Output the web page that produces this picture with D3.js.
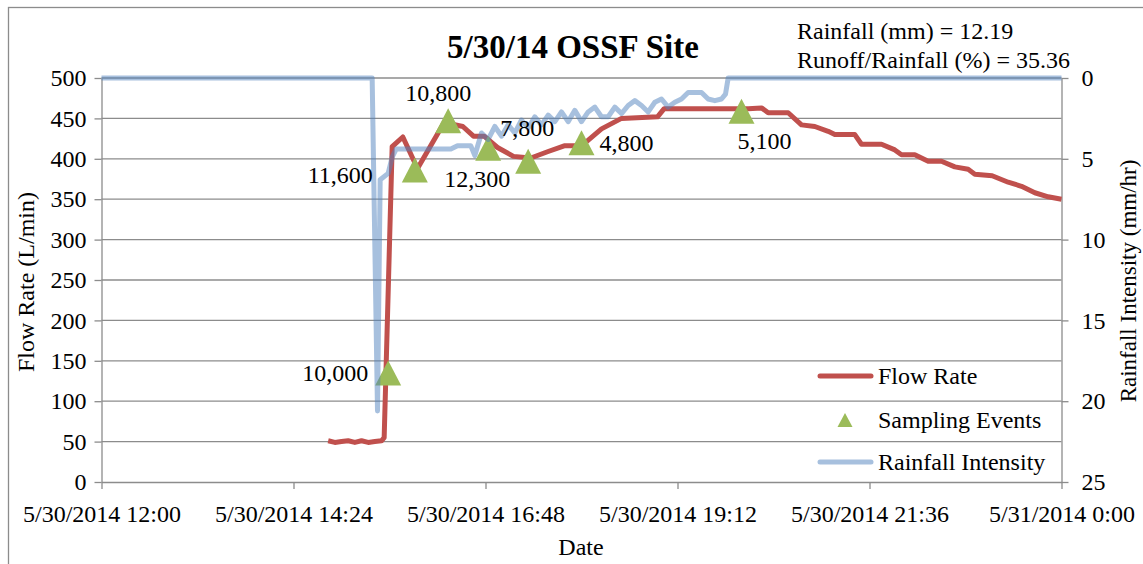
<!DOCTYPE html>
<html><head><meta charset="utf-8">
<script src="https://cdn.jsdelivr.net/npm/d3@7"></script>
<style>body{margin:0;background:#fff}svg{display:block}</style>
</head><body><svg id="c" width="1143" height="564"></svg>
<script>
// ---------- data ----------
const flowTimes = ["14:50","14:55","15:00","15:05","15:10","15:15","15:20","15:25","15:30","15:32","15:38","15:46","15:57","16:17","16:31","16:39","16:47","16:57","17:09","17:22","17:35","17:47","18:00","18:15","18:30","18:57","19:02","20:05","20:15","20:20","20:35","20:45","20:55","21:05","21:10","21:25","21:30","21:45","21:55","22:00","22:10","22:20","22:30","22:40","22:50","22:55","23:08","23:20","23:30","23:40","23:50","24:00"];
const flowValues = [51,49,50,51,49,51,49,50,51,55,415,427,388,445,440,428,428,414,403,401,409,416,416,437,450,452,462,462,463,457,457,442,440,434,430,430,418,418,411,405,405,397,397,390,387,381,379,371,366,358,353,350];

const rainTimes = ["12:00","15:23","15:27","15:29","15:35","15:38","15:41","16:22","16:27","16:37","16:40","16:45","16:50","16:55","17:00","17:05","17:10","17:15","17:20","17:25","17:30","17:35","17:40","17:45","17:50","17:55","18:00","18:05","18:10","18:15","18:20","18:25","18:30","18:35","18:40","18:45","18:50","18:55","19:00","19:05","19:10","19:15","19:20","19:25","19:30","19:35","19:40","19:45","19:48","19:50","24:00"];
const rainValues = [0,0,20.6,6.3,5.9,4.9,4.4,4.4,4.2,4.2,4.8,3.4,3.8,3.0,3.6,2.9,3.4,2.6,3.1,2.4,2.9,2.3,2.7,2.1,2.7,2.0,2.7,2.1,1.8,2.4,2.4,1.8,2.2,1.7,1.4,1.7,2.1,1.5,1.3,1.8,1.5,1.3,0.9,0.9,0.9,1.3,1.4,1.3,1.0,0,0];

const sampleTimes = ["15:35","15:55","16:20","16:50","17:20","18:00","20:00"];
const sampleValues = [135,386,447,413,397,420,459];
const sampleLabels = ["10,000","11,600","10,800","12,300","7,800","4,800","5,100"];

const flowTicks = [0,50,100,150,200,250,300,350,400,450,500];
const rainTicks = [0,5,10,15,20,25];
const dateTicks = ["12:00","14:24","16:48","19:12","21:36","24:00"];
const dateTickLabels = ["5/30/2014 12:00","5/30/2014 14:24","5/30/2014 16:48","5/30/2014 19:12","5/30/2014 21:36","5/31/2014 0:00"];

const seriesNames = ["Flow Rate","Sampling Events","Rainfall Intensity"];
const titleText = "5/30/14 OSSF Site";
const noteLines = ["Rainfall (mm) = 12.19","Runoff/Rainfall (%) = 35.36"];

// ---------- drawing ----------
const T = s => { const [h,m] = s.split(":").map(Number); return new Date(2014,4,30,h,m); };
const FONT = "'Liberation Serif','Times New Roman',serif";
const RED = "#c0504d", GREEN = "#9bbb59", BLUE = "#4f81bd", GRID = "#8c8c8c";

const svg = d3.select("#c").style("font-family", FONT);
const L = 101.5, R = 1061.5, TOP = 78, BOT = 482;

const x = d3.scaleTime().domain([T("12:00"), T("24:00")]).range([L, R]);
const yL = d3.scaleLinear().domain([0,500]).range([BOT, TOP]);
const yR = d3.scaleLinear().domain([0,25]).range([TOP, BOT]);

// outer frame
svg.append("rect").attr("x",8.5).attr("y",7.5).attr("width",1200).attr("height",700)
  .attr("fill","none").attr("stroke",GRID).attr("stroke-width",1.3);

// gridlines
svg.append("g").selectAll("line").data(flowTicks.filter(d=>d>0)).join("line")
  .attr("x1",L).attr("x2",R).attr("y1",d=>yL(d)).attr("y2",d=>yL(d))
  .attr("stroke",GRID).attr("stroke-width",1.3);

function styleAxis(g){
  g.attr("font-family",FONT);
  g.selectAll("path,line").attr("stroke",GRID).attr("stroke-width",1.3);
  g.selectAll("text").attr("fill","#000").style("font-size","24px").style("font-family",FONT);
}
svg.append("g").attr("transform",`translate(${L},0)`)
  .call(d3.axisLeft(yL).tickValues(flowTicks).tickSize(7).tickSizeOuter(0).tickPadding(8))
  .call(styleAxis);
svg.append("g").attr("transform",`translate(${R},0)`)
  .call(d3.axisRight(yR).tickValues(rainTicks).tickSize(7).tickSizeOuter(0).tickPadding(13))
  .call(styleAxis);
svg.append("g").attr("transform",`translate(0,${BOT})`)
  .call(d3.axisBottom(x).tickValues(dateTicks.map(T)).tickFormat((d,i)=>dateTickLabels[i]).tickSize(7).tickSizeOuter(0).tickPadding(16))
  .call(styleAxis);

// flow line
const flowData = flowTimes.map((t,i)=>({t:T(t), v:flowValues[i]}));
svg.append("path").datum(flowData)
  .attr("d", d3.line().x(d=>x(d.t)).y(d=>yL(d.v)))
  .attr("fill","none").attr("stroke",RED).attr("stroke-width",5).attr("stroke-linejoin","round");

// triangles
const tri = (cx,cy,w,h) => `M${cx},${cy-h/2}L${cx+w/2},${cy+h/2}L${cx-w/2},${cy+h/2}Z`;
const sData = sampleTimes.map((t,i)=>({t:T(t), v:sampleValues[i], lab:sampleLabels[i]}));
svg.append("g").selectAll("path").data(sData).join("path")
  .attr("d", d=>tri(x(d.t), yL(d.v), 26, 25)).attr("fill",GREEN);

// rainfall line
const rainData = rainTimes.map((t,i)=>({t:T(t), v:rainValues[i]}));
svg.append("path").datum(rainData)
  .attr("d", d3.line().x(d=>x(d.t)).y(d=>yR(d.v)))
  .attr("fill","none").attr("stroke",BLUE).attr("stroke-opacity",0.5).attr("stroke-width",5).attr("stroke-linejoin","round");

// data labels
const place = [
  {a:"end", dx:-20, dy:0},
  {a:"end", dx:-42, dy:4},
  {a:"middle", dx:-10, dy:-28},
  {a:"middle", dx:-11, dy:30},
  {a:"middle", dx:-1, dy:-34},
  {a:"start", dx:18, dy:0},
  {a:"middle", dx:23, dy:29}
];
svg.append("g").selectAll("text").data(sData).join("text")
  .attr("x",(d,i)=>x(d.t)+place[i].dx).attr("y",(d,i)=>yL(d.v)+place[i].dy)
  .attr("dy","0.35em").attr("text-anchor",(d,i)=>place[i].a)
  .style("font-size","24px").text(d=>d.lab);

// title & notes
svg.append("text").attr("x",573).attr("y",58).attr("text-anchor","middle")
  .style("font-size","33px").style("font-weight","bold").text(titleText);
svg.append("g").selectAll("text").data(noteLines).join("text")
  .attr("x",797).attr("y",(d,i)=>39+i*29).style("font-size","24px").text(d=>d);

// axis titles
svg.append("text").attr("x",581).attr("y",555).attr("text-anchor","middle").style("font-size","24px").text("Date");
svg.append("text").attr("transform","translate(34,282) rotate(-90)").attr("text-anchor","middle").style("font-size","24px").text("Flow Rate (L/min)");
svg.append("text").attr("transform","translate(1136,281) rotate(-90)").attr("text-anchor","middle").style("font-size","23px").text("Rainfall Intensity (mm/hr)");

// legend
const lg = svg.append("g");
const ly = [376, 420, 462];
lg.append("line").attr("x1",820).attr("x2",871).attr("y1",ly[0]).attr("y2",ly[0])
  .attr("stroke",RED).attr("stroke-width",5).attr("stroke-linecap","round");
lg.append("path").attr("d",tri(845,ly[1],15,14)).attr("fill",GREEN);
lg.append("line").attr("x1",820).attr("x2",871).attr("y1",ly[2]).attr("y2",ly[2])
  .attr("stroke",BLUE).attr("stroke-opacity",0.5).attr("stroke-width",5).attr("stroke-linecap","round");
lg.selectAll("text").data(seriesNames).join("text")
  .attr("x",878).attr("y",(d,i)=>ly[i]).attr("dy","0.33em").style("font-size","24px").text(d=>d);
</script></body></html>
